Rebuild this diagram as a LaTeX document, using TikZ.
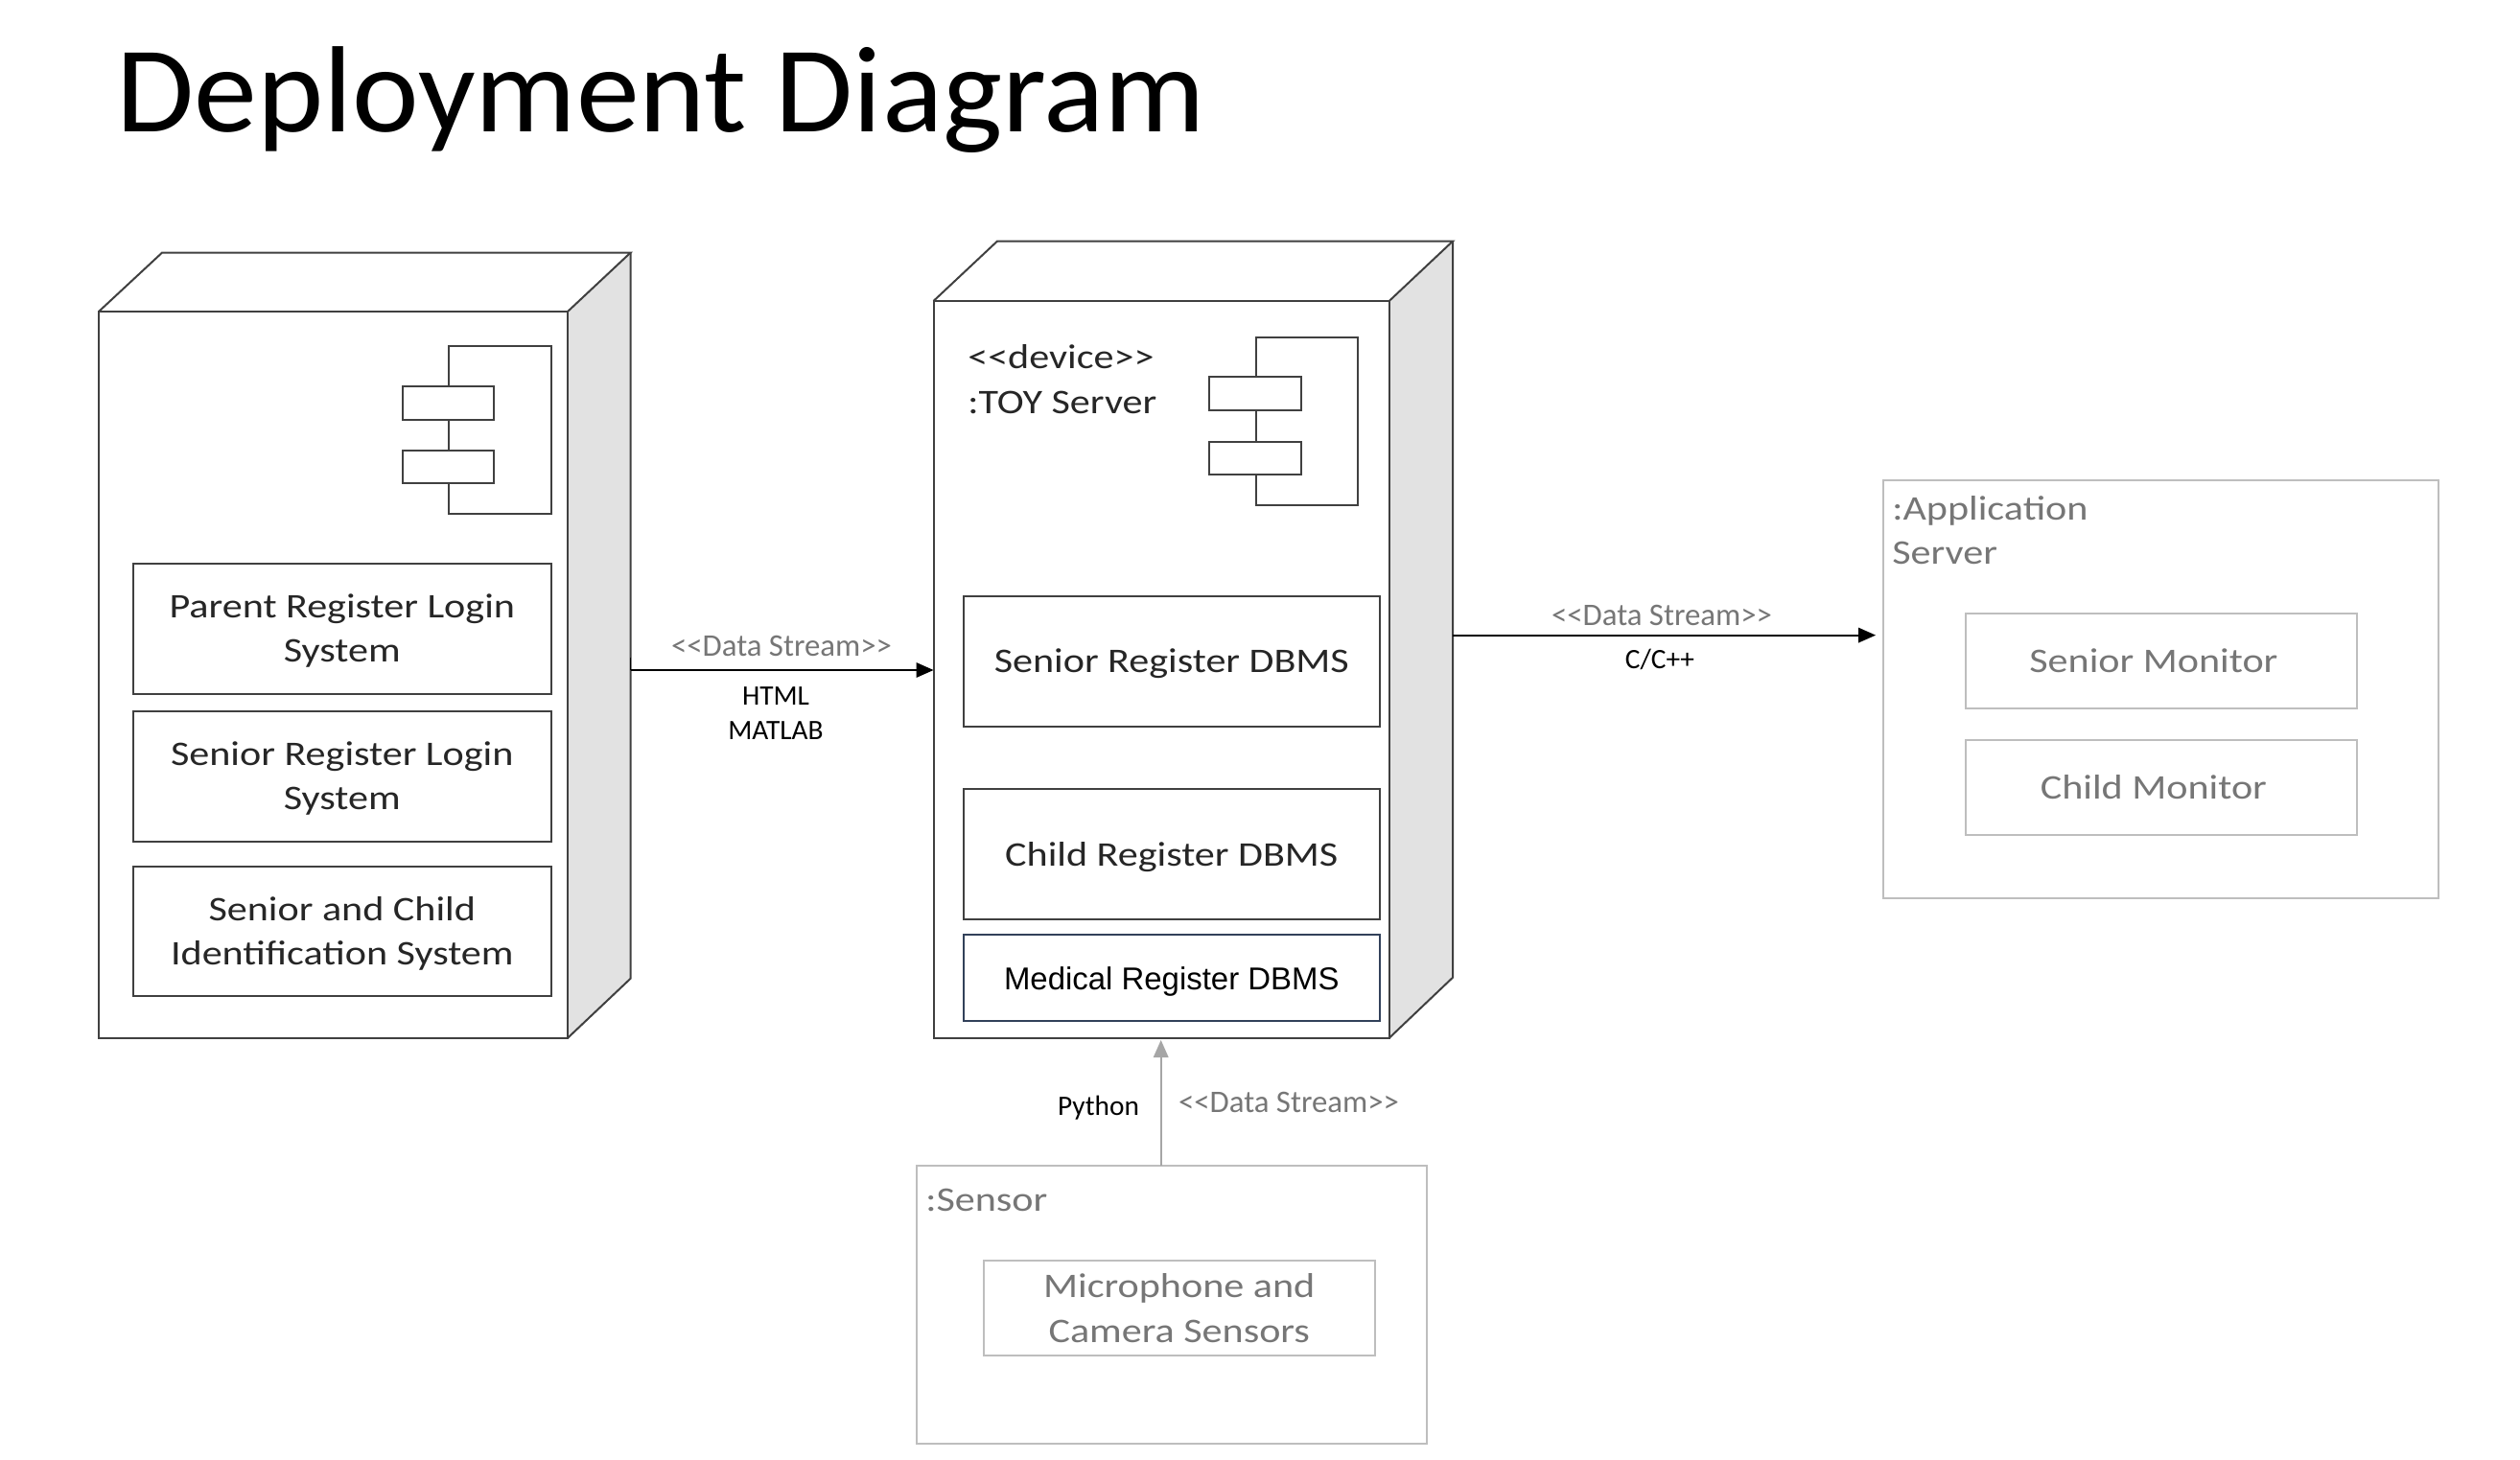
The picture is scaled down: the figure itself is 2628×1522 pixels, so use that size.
\documentclass[tikz,border=0pt]{standalone}
\usepackage{fontspec}
\setmainfont{Carlito}
\newfontfamily\labelfont{Carlito}
\newfontfamily\widefont[FakeStretch=1.17]{Carlito}
\newfontfamily\titlefont[FakeStretch=1.03]{Carlito}
\newfontfamily\arialfont{Liberation Sans}
\definecolor{edgedark}{RGB}{64,64,64}
\definecolor{edgepale}{RGB}{190,190,190}
\definecolor{textpale}{RGB}{118,118,118}
\definecolor{sideface}{RGB}{226,226,226}
\tikzset{
  cubeline/.style={draw=edgedark,line width=1.5},
  darkbox/.style={draw=edgedark,line width=1.5,anchor=north west,inner sep=0pt,outer sep=0pt,align=center,text depth=0pt,font=\widefont\fontsize{27}{34.5}\selectfont,text=black!85},
  palebox/.style={draw=edgepale,line width=1.5,anchor=north west,inner sep=0pt,outer sep=0pt,align=center,font=\widefont\fontsize{27}{35.5}\selectfont,text=textpale},
  paletext/.style={inner sep=0.75pt,align=left,font=\widefont\fontsize{27}{35}\selectfont,text=textpale},
  streamlabel/.style={inner sep=0.75pt,font=\labelfont\fontsize{24.6}{28}\selectfont,text=textpale},
  langlabel/.style={inner sep=0.75pt,align=center,font=\labelfont\fontsize{22}{27.5}\selectfont},
  headtip/.style={line width=0.08,draw opacity=0},
}
\begin{document}
\begin{tikzpicture}[x=0.75pt,y=0.75pt,yscale=-1,xscale=1]
\useasboundingbox (0,0) rectangle (2628,1522);

% Title
\node (title) [anchor=west,inner sep=0pt,font=\titlefont\fontsize{96}{110}\selectfont] at (121,104) {Deployment Diagram};

%Shape: left cube
\fill [sideface] (592,325) -- (657.5,263.6) -- (657.5,1020.8) -- (592,1082.8) -- cycle ;
\draw [cubeline] (103,325) -- (592,325) -- (592,1082.8) -- (103,1082.8) -- cycle ;
\draw [cubeline] (103,325) -- (169,263.6) -- (657.5,263.6) -- (592,325) ;
\draw [cubeline] (657.5,263.6) -- (657.5,1020.8) -- (592,1082.8) ;
%Shape: left component icon
\draw [cubeline] (467.5,402.5) -- (467.5,360.6) -- (574.6,360.6) -- (574.6,536.3) -- (467.5,536.3) -- (467.5,504.2) ;
\draw [cubeline] (467.5,437.6) -- (467.5,469.7) ;
\draw [cubeline] (420,402.5) rectangle (515,437.6) ;
\draw [cubeline] (420,469.7) rectangle (515,504.2) ;

% Text Node
\node (parent) [darkbox,minimum width=326.7pt,minimum height=102pt] at (139,587.5) {Parent Register Login\\System};
\node (senior) [darkbox,minimum width=326.7pt,minimum height=102pt] at (139,741.5) {Senior Register Login\\System};
\node (ident) [darkbox,minimum width=326.7pt,minimum height=101.6pt] at (139,903.5) {Senior and Child\\Identification System};

%Shape: centre cube
\fill [sideface] (1448.7,314) -- (1515,251.6) -- (1515,1019.7) -- (1448.7,1082.8) -- cycle ;
\draw [cubeline] (973.5,314) -- (1448.7,314) -- (1448.7,1082.8) -- (973.5,1082.8) -- cycle ;
\draw [cubeline] (973.5,314) -- (1040,251.6) -- (1515,251.6) -- (1448.7,314) ;
\draw [cubeline] (1515,251.6) -- (1515,1019.7) -- (1448.7,1082.8) ;
%Shape: centre component icon
\draw [cubeline] (1309.6,393.4) -- (1309.6,351.5) -- (1415.5,351.5) -- (1415.5,527) -- (1309.6,527) -- (1309.6,495) ;
\draw [cubeline] (1309.6,427.8) -- (1309.6,460.5) ;
\draw [cubeline] (1261.4,393.4) rectangle (1356.7,427.8) ;
\draw [cubeline] (1261.4,460.5) rectangle (1356.7,495) ;

% Text Node
\node (toy) [anchor=north west,inner sep=0.75pt,align=left,font=\widefont\fontsize{27}{35.5}\selectfont,text=black!85] at (1008,358) {<<device>>\\:TOY Server};
\node (seniordb) [darkbox,minimum width=325.8pt,minimum height=102pt] at (1004.6,621.5) {Senior Register DBMS};
\node (childdb) [darkbox,minimum width=325.8pt,minimum height=102pt] at (1004.6,823) {Child Register DBMS};
\node (medicaldb) [anchor=north west,inner sep=0pt,outer sep=0pt,text depth=0pt,draw={rgb, 255:red, 50; green, 65; blue, 90 },line width=1.5,minimum width=325.8pt,minimum height=67.6pt,font=\arialfont\fontsize{24.7}{28}\selectfont] at (1004.6,975) {Medical Register DBMS};

%Shape: application server
\node (appserver) [palebox,minimum width=433.9pt,minimum height=327.3pt] at (1964,500.8) {};
\node (applabel) [paletext,anchor=north west] at (1972,516) {:Application\\Server};
\node (srmonitor) [palebox,minimum width=306pt,minimum height=74.1pt] at (2049.5,640) {\hspace*{-11.4pt}Senior Monitor};
\node (chmonitor) [palebox,minimum width=306pt,minimum height=74pt] at (2049.5,772) {\hspace*{-11.4pt}Child Monitor};

%Shape: sensor
\node (sensor) [palebox,minimum width=399.1pt,minimum height=217.5pt] at (956,1216) {};
\node (sensorlabel) [paletext,anchor=west] at (964,1252) {:Sensor};
\node (mic) [palebox,minimum width=306.4pt,minimum height=74.3pt] at (1025.5,1315) {Microphone and\\Camera Sensors};

% Connector ends
\coordinate (parentout) at (657.5,699);
\coordinate (toyin) at (973.5,699);
\coordinate (toyout) at (1515,662.6);
\coordinate (appin) at (1956,662.6);
\coordinate (sensorout) at (1210.7,1216);
\coordinate (toyunder) at (1210.7,1085);

%Straight Lines
\draw [line width=1.5,shorten >=6pt] (parentout) -- (toyin) ;
\draw [shift={(toyin)}, rotate = 180] [fill=black,headtip] (18,-8) -- (0,0) -- (18,8) -- cycle ;
\draw [line width=1] (parentout) -- ++(0,-13) ;
\draw [line width=1.5,shorten >=6pt] (toyout) -- (appin) ;
\draw [shift={(appin)}, rotate = 180] [fill=black,headtip] (18,-8) -- (0,0) -- (18,8) -- cycle ;
\draw [line width=1.5,draw=black!35,shorten >=6pt] (sensorout) -- (toyunder) ;
\draw [shift={(toyunder)}, rotate = 90] [fill=black!35,headtip] (18,-8) -- (0,0) -- (18,8) -- cycle ;

% Text Node
\node (streamleft) [streamlabel] at (815,674) {<<Data Stream>>};
\node (weblang) [langlabel] at (809,744) {HTML\\MATLAB};
\node (streamright) [streamlabel] at (1733,642) {<<Data Stream>>};
\node (cpplang) [langlabel] at (1731,688) {C/C++};
\node (pylang) [langlabel] at (1145.5,1156) {Python};
\node (streamup) [streamlabel] at (1344,1150) {<<Data Stream>>};
\end{tikzpicture}
\end{document}
